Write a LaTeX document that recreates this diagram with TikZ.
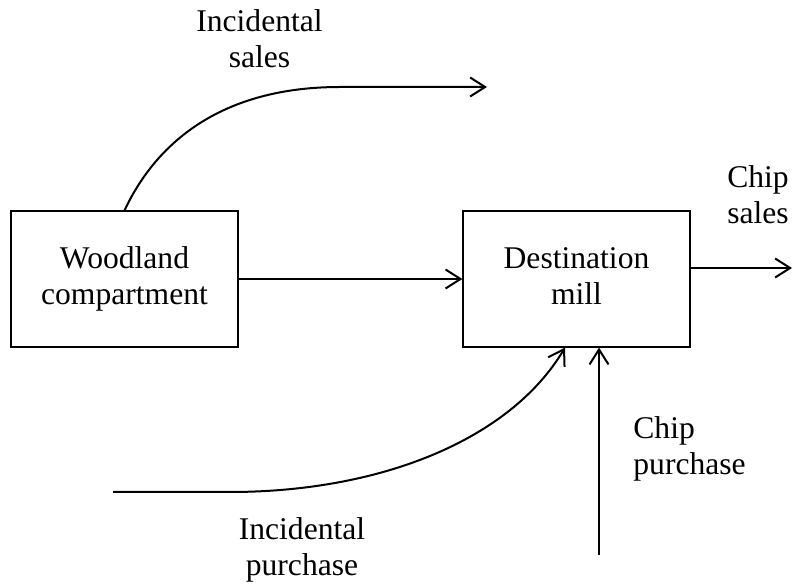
\documentclass[tikz,border=0pt]{standalone}
\usepackage{fontspec}
\setmainfont{Liberation Serif}
\usepackage{tikz}
\usetikzlibrary{arrows.meta}
\tikzstyle{box} = [rectangle, minimum width=113.5pt, minimum height=68pt, text centered, align=center, draw=black, line width=0.6pt, inner sep=0pt]
\tikzstyle{flowtext} = [inner sep=0pt, align=center]
\tikzstyle{flow} = [line width=1pt, -{Straight Barb[length=7.5pt,width=9.5pt]}]

\begin{document}
\begin{tikzpicture}[x=0.5pt, y=-0.5pt, every node/.style={font=\fontsize{15.8}{18}\selectfont}]

        \useasboundingbox (0,0) rectangle (793,587);

        % Blocks
        \node (woodland) [box] at (124.5,279) {Woodland\\compartment};
        \node (mill) [box, right of=woodland, node distance=226pt] {Destination\\mill\vphantom{p}};

        % Free ends of the flows
        \coordinate (salesend) at (487,87);
        \coordinate (purchstart) at (113,492);
        \coordinate (chipin) at (599,555);
        \coordinate (chipout) at (792,268);

        % Flows
        \draw [flow] (woodland) -- (mill);
        \draw [flow] (woodland.north) .. controls (160,135) and (230,87) .. (340,87) -- (salesend);
        \draw [flow] (mill.east |- chipout) -- (chipout);
        \draw [flow] (purchstart) -- (230,492) .. controls (380,492) and (510,440) .. ([xshift=-5.75pt]mill.south);
        \draw [flow] (chipin) -- (chipin |- mill.south);

        % Texts of the flows
        \node (salestext) [flowtext] at (259.5,39) {Incidental\\sales};
        \node (chipsales) [flowtext] at (758,195) {Chip\\sales};
        \node (chippurch) [flowtext, anchor=west, align=left] at (633,449) {Chip\\purchase};
        \node (purchtext) [flowtext] at (302,550) {Incidental\\purchase};

    \end{tikzpicture}
\end{document}
